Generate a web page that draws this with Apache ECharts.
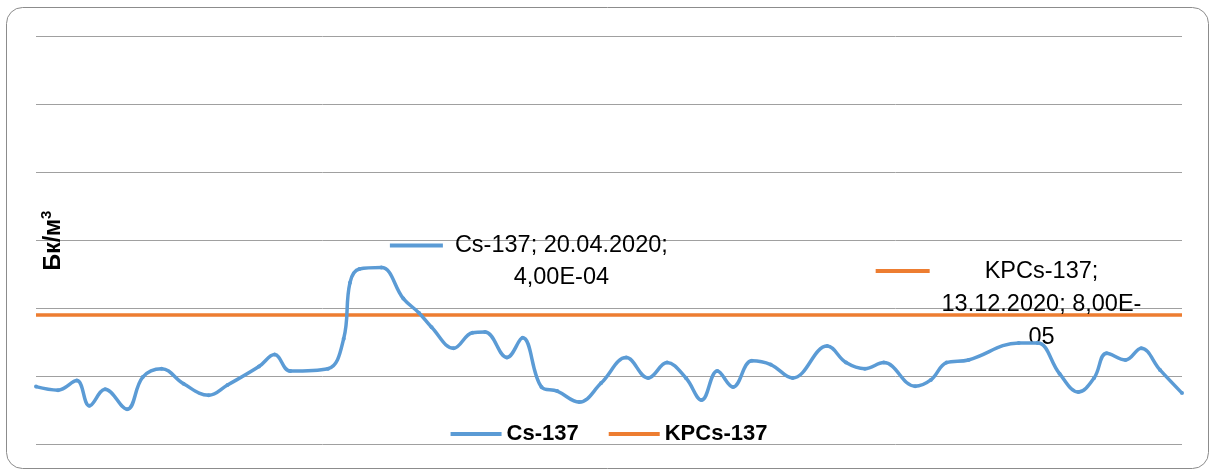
<!DOCTYPE html>
<html>
<head>
<meta charset="utf-8">
<script src="https://cdn.jsdelivr.net/npm/echarts@6/dist/echarts.min.js"></script>
<style>
  html, body { margin: 0; padding: 0; background: #fff; }
  #chart { width: 1218px; height: 472px; }
</style>
</head>
<body>
<div id="chart"></div>
<script>
// sampling dates of Cs-137 (2020)
var dates = [
  '2020-01-01', '2020-01-08', '2020-01-14', '2020-01-18', '2020-01-23', '2020-01-30', '2020-02-04', '2020-02-10', '2020-02-17', '2020-02-25',
  '2020-03-02', '2020-03-12', '2020-03-17', '2020-03-22', '2020-04-03', '2020-04-08', '2020-04-10', '2020-04-13', '2020-04-20', '2020-04-27',
  '2020-05-02', '2020-05-06', '2020-05-13', '2020-05-19', '2020-05-23', '2020-05-30', '2020-06-04', '2020-06-10', '2020-06-15', '2020-06-22',
  '2020-06-29', '2020-07-07', '2020-07-14', '2020-07-20', '2020-07-26', '2020-07-31', '2020-08-05', '2020-08-10', '2020-08-16', '2020-08-22',
  '2020-08-29', '2020-09-09', '2020-09-15', '2020-09-21', '2020-09-27', '2020-10-07', '2020-10-12', '2020-10-17', '2020-10-24', '2020-11-09',
  '2020-11-15', '2020-11-22', '2020-11-28', '2020-12-03', '2020-12-07', '2020-12-13', '2020-12-18', '2020-12-24', '2020-12-31'
];
// Cs-137, Бк/м³
var csValues = [
  7.1e-6, 6.3e-6, 8.7e-6, 3.7e-6, 6.5e-6, 3.3e-6, 9.8e-6, 1.3e-5, 7.8e-6, 5.3e-6,
  7.5e-6, 1.4e-5, 2.1e-5, 1.2e-5, 1.3e-5, 3.6e-5, 2.4e-4, 3.8e-4, 4.0e-4, 1.4e-4,
  8.6e-5, 5.3e-5, 2.6e-5, 4.4e-5, 4.5e-5, 1.9e-5, 3.7e-5, 7.0e-6, 6.1e-6, 4.2e-6,
  8.0e-6, 1.9e-5, 9.5e-6, 1.6e-5, 9.5e-6, 4.5e-6, 1.2e-5, 7.0e-6, 1.7e-5, 1.5e-5,
  9.5e-6, 2.8e-5, 1.6e-5, 1.3e-5, 1.6e-5, 7.2e-6, 8.9e-6, 1.6e-5, 1.75e-5, 3.1e-5,
  3.1e-5, 1.1e-5, 5.9e-6, 9.5e-6, 2.2e-5, 1.75e-5, 2.6e-5, 1.25e-5, 5.7e-6
];
// KPCs-137 level
var kpDates = ['2020-01-01', '2020-12-13', '2020-12-31'];
var kpValues = [8e-5, 8e-5, 8e-5];

var csLabelDate = '2020-04-20';
var kpLabelDate = '2020-12-13';

var BLUE = '#5b9bd5';
var ORANGE = '#ed7d31';
var FONT = '"Liberation Sans", Arial, sans-serif';

var csData = dates.map(function (d, i) {
  if (d === csLabelDate) {
    return {
      value: [d, csValues[i]],
      label: {
        show: true,
        position: 'inside',
        offset: [180, -6],
        align: 'center',
        verticalAlign: 'middle',
        lineHeight: 32,
        fontFamily: FONT,
        fontSize: 23.5,
        color: '#000',
        formatter: '{key|}{gap|}Cs-137; 20.04.2020;{pad|}\n4,00E-04',
        rich: {
          key: { width: 53, height: 4, backgroundColor: BLUE },
          gap: { width: 12 },
          pad: { width: 65 }
        }
      }
    };
  }
  return [d, csValues[i]];
});

var kpData = kpDates.map(function (d, i) {
  if (d === kpLabelDate) {
    return {
      value: [d, kpValues[i]],
      symbol: 'circle',
      symbolSize: 1,
      label: {
        show: true,
        position: 'inside',
        offset: [-84, -11],
        align: 'center',
        verticalAlign: 'middle',
        lineHeight: 33,
        fontFamily: FONT,
        fontSize: 23.5,
        color: '#000',
        formatter: '{key|}{gap|}KPCs-137;{pad|}\n13.12.2020; 8,00E-\n05',
        rich: {
          key: { width: 54, height: 4, backgroundColor: ORANGE },
          gap: { width: 55 },
          pad: { width: 109 }
        }
      }
    };
  }
  return { value: [d, kpValues[i]], symbol: 'none' };
});

var chart = echarts.init(document.getElementById('chart'));
chart.setOption({
  animation: false,
  backgroundColor: '#fff',
  graphic: [{
    type: 'rect',
    shape: { x: 6.5, y: 7.5, width: 1202, height: 461, r: 16 },
    style: { fill: 'none', stroke: '#8c8c8c', lineWidth: 1 },
    silent: true,
    z: -10
  }],
  grid: { left: 36, right: 36, top: 36.5, bottom: 27.5 },
  legend: {
    left: 'center',
    top: 418,
    itemWidth: 51,
    itemHeight: 4,
    itemGap: 30,
    textStyle: { fontFamily: FONT, fontSize: 22, fontWeight: 'bold', color: '#000' },
    data: [
      { name: 'Cs-137', icon: 'rect' },
      { name: 'KPCs-137', icon: 'rect' }
    ]
  },
  xAxis: {
    type: 'time',
    min: '2020-01-01',
    max: '2020-12-31',
    axisLine: { show: false },
    axisTick: { show: false },
    axisLabel: { show: false },
    splitLine: { show: false }
  },
  yAxis: {
    type: 'log',
    logBase: 10,
    min: 1e-6,
    max: 1,
    splitNumber: 6,
    name: 'Бк/м{sup|3}',
    nameLocation: 'middle',
    nameRotate: 90,
    nameGap: -33,
    nameTextStyle: {
      fontFamily: FONT, fontSize: 23, fontWeight: 'bold', color: '#000', lineHeight: 30,
      rich: {
        sup: { fontFamily: FONT, fontSize: 15, fontWeight: 'bold', color: '#000', verticalAlign: 'top', lineHeight: 30 }
      }
    },
    axisLine: { show: false },
    axisTick: { show: false },
    axisLabel: { show: false },
    splitLine: { lineStyle: { color: '#a0a0a0', width: 1 } }
  },
  series: [
    {
      name: 'Cs-137',
      type: 'line',
      smooth: 0.4,
      data: csData,
      symbol: 'circle',
      symbolSize: 4,
      itemStyle: { color: BLUE },
      lineStyle: { color: BLUE, width: 3.5 },
      z: 3
    },
    {
      name: 'KPCs-137',
      type: 'line',
      data: kpData,
      showSymbol: true,
      itemStyle: { color: ORANGE },
      lineStyle: { color: ORANGE, width: 3.5 },
      z: 2
    }
  ]
});
</script>
</body>
</html>
